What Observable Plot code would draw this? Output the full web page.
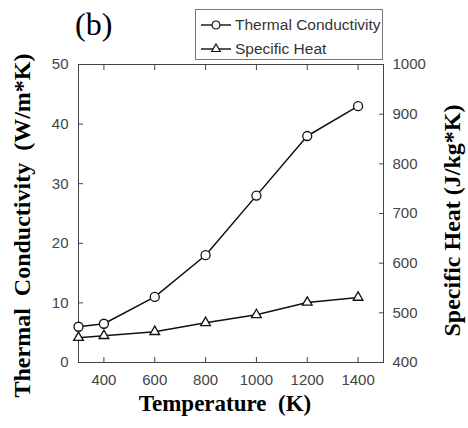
<!DOCTYPE html>
<html><head><meta charset="utf-8">
<script src="https://cdn.jsdelivr.net/npm/d3@7"></script>
<script src="https://cdn.jsdelivr.net/npm/@observablehq/plot@0.6"></script>
<style>
body{margin:0;background:#fff;}
#wrap{position:relative;width:468px;height:428px;overflow:hidden;}
#panel{position:absolute;left:75px;top:8px;font:32px "Liberation Serif",serif;line-height:32px;color:#000;}
#legend{position:absolute;left:195px;top:9px;width:186px;height:49px;border:1px solid #777;background:#fff;font:15.5px "Liberation Sans",Arial,sans-serif;color:#333;}
#legend .row{position:absolute;left:4px;height:20px;display:flex;align-items:center;white-space:nowrap;}
#legend svg{margin-right:3px;}
</style></head><body><div id="wrap"></div>
<script>
const temperature = [300, 400, 600, 800, 1000, 1200, 1400];
const thermalConductivity = [6, 6.5, 11, 18, 28, 38, 43];
const specificHeat = [450, 454, 462, 480, 496, 521, 531];
const xTicks = [400, 600, 800, 1000, 1200, 1400];
const leftTicks = [0, 10, 20, 30, 40, 50];
const rightTicks = [400, 500, 600, 700, 800, 900, 1000];
const seriesNames = ["Thermal Conductivity", "Specific Heat"];
const xLabel = "Temperature  (K)";
const leftLabel = "Thermal  Conductivity  (W/m*K)";
const rightLabel = "Specific Heat (J/kg*K)";
const panelLabel = "(b)";

const leftDomain = [0, 50];
const rightDomain = [400, 1000];
const cpToY = v => (v - rightDomain[0]) / (rightDomain[1] - rightDomain[0]) * (leftDomain[1] - leftDomain[0]) + leftDomain[0];
const yToCp = y => (y - leftDomain[0]) / (leftDomain[1] - leftDomain[0]) * (rightDomain[1] - rightDomain[0]) + rightDomain[0];

const rowsK = temperature.map((t, i) => ({t, v: thermalConductivity[i]}));
const rowsC = temperature.map((t, i) => ({t, v: cpToY(specificHeat[i])}));

const axisColor = "#444";
const lineColor = "#111";
const serif = "Liberation Serif";

const chart = Plot.plot({
  width: 468, height: 428,
  marginLeft: 78, marginRight: 85, marginTop: 64, marginBottom: 66,
  style: {fontFamily: "Liberation Sans, Arial, sans-serif", fontSize: "15px", color: "#444", background: "#fff"},
  x: {domain: [300, 1500]},
  y: {domain: leftDomain},
  marks: [
    Plot.axisX(xTicks, {anchor: "bottom", tickSize: 0, tickPadding: 12, label: null, fill: "#444", tickFormat: d => String(d)}),
    Plot.axisX(xTicks, {anchor: "bottom", tickSize: 5, dy: -5, text: null, label: null, stroke: axisColor}),
    Plot.axisX(xTicks, {anchor: "top", tickSize: 5, dy: 5, text: null, label: null, stroke: axisColor}),
    Plot.axisY(leftTicks, {anchor: "left", tickSize: 0, tickPadding: 10, label: null, fill: "#444", tickFormat: d => String(d)}),
    Plot.axisY(leftTicks, {anchor: "left", tickSize: 5, dx: 5, text: null, label: null, stroke: axisColor}),
    Plot.axisY(rightTicks.map(cpToY), {anchor: "right", tickSize: 0, tickPadding: 9, label: null, fill: "#444", tickFormat: d => String(Math.round(yToCp(d)))}),
    Plot.axisY(rightTicks.map(cpToY), {anchor: "right", tickSize: 5, dx: -5, text: null, label: null, stroke: axisColor}),
    Plot.frame({stroke: axisColor, strokeWidth: 1}),
    Plot.line(rowsK, {x: "t", y: "v", stroke: lineColor, strokeWidth: 1.5}),
    Plot.line(rowsC, {x: "t", y: "v", stroke: lineColor, strokeWidth: 1.5}),
    Plot.dot(rowsK, {x: "t", y: "v", r: 4.5, fill: "white", stroke: lineColor, strokeWidth: 1.3}),
    Plot.dot(rowsC, {x: "t", y: "v", r: 3.6, symbol: "triangle", fill: "white", stroke: lineColor, strokeWidth: 1.3}),
    Plot.text([xLabel], {frameAnchor: "bottom", textAnchor: "middle", dx: -6, dy: 48, fontFamily: serif, fontSize: 23, fontWeight: "bold", fill: "#000"}),
    Plot.text([leftLabel], {frameAnchor: "left", textAnchor: "middle", rotate: -90, dx: -56, dy: 12, fontFamily: serif, fontSize: 24, fontWeight: "bold", fill: "#000"}),
    Plot.text([rightLabel], {frameAnchor: "right", textAnchor: "middle", rotate: -90, dx: 69, dy: 7, fontFamily: serif, fontSize: 24, fontWeight: "bold", fill: "#000"})
  ]
});

const wrap = document.getElementById("wrap");
wrap.appendChild(chart);

const panel = document.createElement("div");
panel.id = "panel";
panel.textContent = panelLabel;
wrap.appendChild(panel);

const legend = document.createElement("div");
legend.id = "legend";
const symbols = ["circle", "triangle"];
const sizes = [4, 3.2];
seriesNames.forEach((name, i) => {
  const row = document.createElement("div");
  row.className = "row";
  row.style.top = (i === 0 ? 5 : 29) + "px";
  const s = d3.create("svg").attr("width", 32).attr("height", 16);
  s.append("line").attr("x1", 1).attr("x2", 31).attr("y1", 8).attr("y2", 8).attr("stroke", lineColor).attr("stroke-width", 1.4);
  s.append("path").attr("transform", "translate(16,8)")
    .attr("d", d3.symbol(symbols[i] === "circle" ? d3.symbolCircle : d3.symbolTriangle, Math.PI * sizes[i] * sizes[i])())
    .attr("fill", "white").attr("stroke", lineColor).attr("stroke-width", 1.2);
  row.appendChild(s.node());
  const t = document.createElement("span");
  t.textContent = name;
  row.appendChild(t);
  legend.appendChild(row);
});
wrap.appendChild(legend);
</script>
</body></html>
